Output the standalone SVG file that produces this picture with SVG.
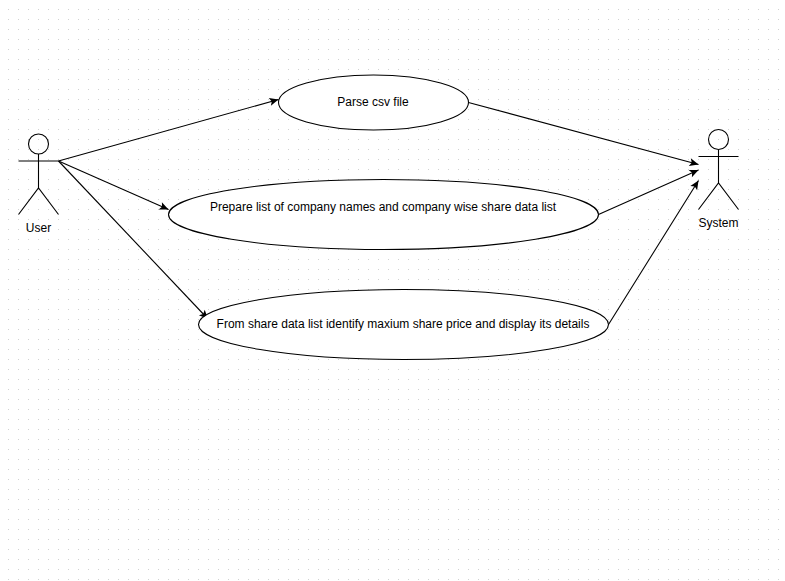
<svg xmlns="http://www.w3.org/2000/svg" width="785" height="581" viewBox="0 0 785 581">
<style>
.s{fill:none;stroke:#000;stroke-width:1.1}
.u{fill:#fff;stroke:#000;stroke-width:1.1}
.c{fill:none;stroke:#000;stroke-width:1.1;marker-end:url(#a)}
text{font-family:"Liberation Sans",Arial,sans-serif;font-size:12px;fill:#000;text-anchor:middle}
</style>
<defs>
<pattern id="g" width="10" height="10" patternUnits="userSpaceOnUse" x="3" y="4"><rect x="5" y="5" width="1" height="1" fill="#d0d0d0"/></pattern>
<marker id="a" markerUnits="userSpaceOnUse" markerWidth="12" markerHeight="12" refX="10" refY="5" orient="auto"><path d="M1 1L10 5L1 9L3 5Z" fill="#000"/></marker>
</defs>
<rect width="785" height="581" fill="#fff"/>
<rect width="785" height="581" fill="url(#g)"/>
<g id="connectors">
<path class="c" d="M58.500 161L278.500 99.500"/>
<path class="c" d="M58.500 161L168.500 209.500"/>
<path class="c" d="M58.500 161L208 319"/>
<path class="c" d="M468.500 102.500L698.500 164.500"/>
<path class="c" d="M598.500 214.500L698.500 170"/>
<path class="c" d="M608.500 324.500L698.500 180.500"/>
</g>
<g id="user"><circle class="s" cx="38.500" cy="144" r="10"/><path class="s" d="M38.500 154V188M18.500 161H58.500M18.500 214.500L38.500 188L58.500 214.500"/><text x="38.500" y="232">User</text></g>
<g id="system"><circle class="s" cx="718.500" cy="139.500" r="10"/><path class="s" d="M718.500 149.500V183M698.500 156.500H738.500M698.500 209.500L718.500 183L738.500 209.500"/><text x="718.500" y="227">System</text></g>
<g id="parse"><ellipse class="u" cx="373.500" cy="102.500" rx="95" ry="27.500"/><text x="373" y="106">Parse csv file</text></g>
<g id="prepare"><ellipse class="u" cx="383.500" cy="214.500" rx="215" ry="35"/><text x="383" y="211">Prepare list of company names and company wise share data list</text></g>
<g id="identify"><ellipse class="u" cx="403.500" cy="324.500" rx="205" ry="35"/><text x="403" y="328">From share data list identify maxium share price and display its details</text></g>
</svg>
